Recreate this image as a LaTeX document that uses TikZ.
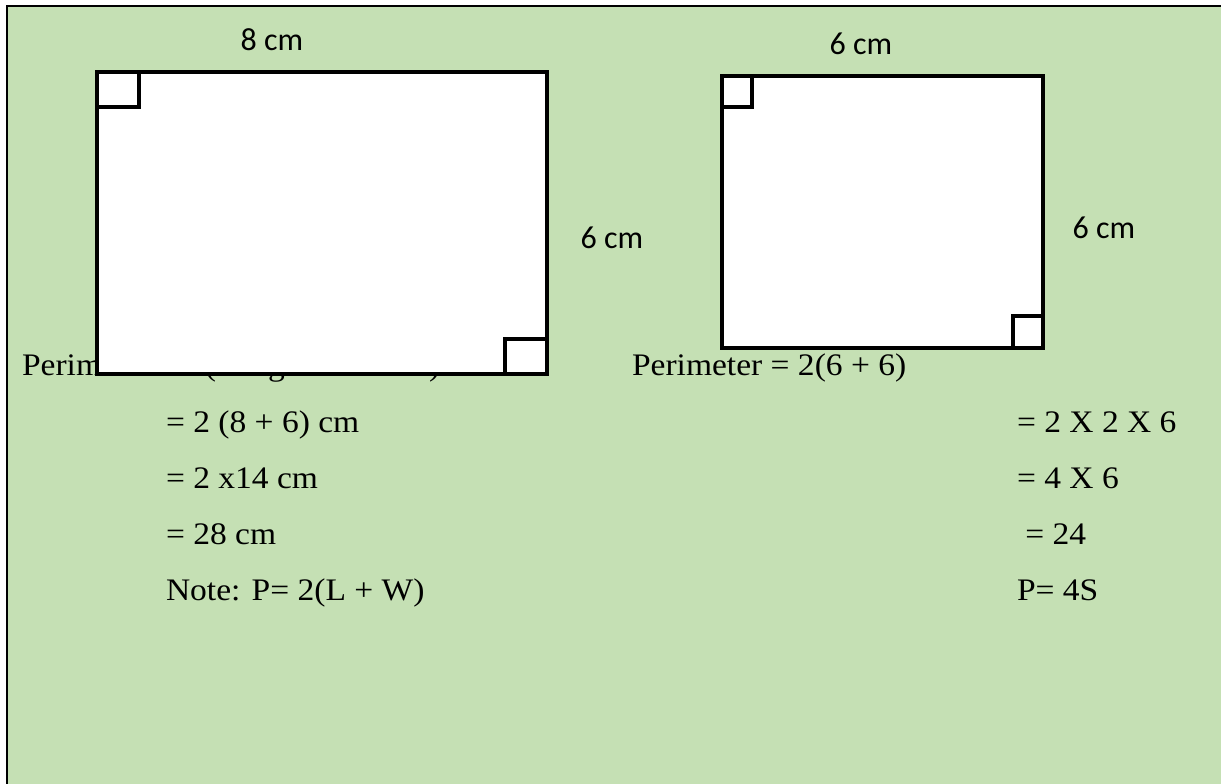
\documentclass[tikz,border=0pt]{standalone}
\usepackage{fontspec}
\setmainfont[FakeStretch=1.07]{Liberation Serif}
\newfontfamily\labelfont{Carlito}
\usetikzlibrary{positioning}
\definecolor{sheetgreen}{HTML}{C5E0B4}

\begin{document}
\begin{tikzpicture}[x=0.75pt, y=-0.75pt,
    every node/.style={inner sep=0pt, outer sep=0pt},
    sumline/.style={anchor=base west, font=\fontsize{23.5}{28}\selectfont},
    dimlabel/.style={font=\labelfont\fontsize{24}{28}\selectfont},
    figbox/.style={draw=black, line width=2.4pt, fill=white},
    rightangle/.style={draw=black, line width=2.4pt},
]

% Page and frame
\useasboundingbox (0,0) rectangle (1221,783);
\fill[sheetgreen] (7,6) rectangle (1240,800);
\draw[line width=2pt] (7,800) -- (7,6) -- (1240,6);

% Rectangle: working (first line partly hidden by the figure)
\node[sumline] (rperim) at (22,375) {Perimeter = 2(Length + Width)};
\node[sumline] (rstep1) at (166,432) {= 2 (8 + 6) cm};
\node[sumline] (rstep2) at (166,488) {= 2 x14 cm};
\node[sumline] (rstep3) at (166,544) {= 28 cm};
\node[sumline] (rnote) at (166,600) {Note: P= 2(L + W)};

% Rectangle
\draw[figbox] (97,72) rectangle (547,374);
\draw[rightangle] (97,72) rectangle (139,107);
\draw[rightangle] (505,339) rectangle (547,374);
\node[dimlabel] (rlen) at (272,40) {8 cm};
\node[dimlabel] (rwid) at (612,238) {6 cm};

% Square
\draw[figbox] (722,76) rectangle (1043,348);
\draw[rightangle] (722,76) rectangle (752,107);
\draw[rightangle] (1013,316) rectangle (1043,348);
\node[dimlabel] (stop) at (861,44) {6 cm};
\node[dimlabel] (sside) at (1104,228) {6 cm};

% Square: working
\node[sumline] (sperim) at (632,375) {Perimeter = 2(6 + 6)};
\node[sumline] (sstep1) at (1017,432) {= 2 X 2 X 6};
\node[sumline] (sstep2) at (1017,488) {= 4 X 6};
\node[sumline] (sstep3) at (1017,544) {\ = 24};
\node[sumline] (snote) at (1017,600) {P= 4S};

\end{tikzpicture}
\end{document}
